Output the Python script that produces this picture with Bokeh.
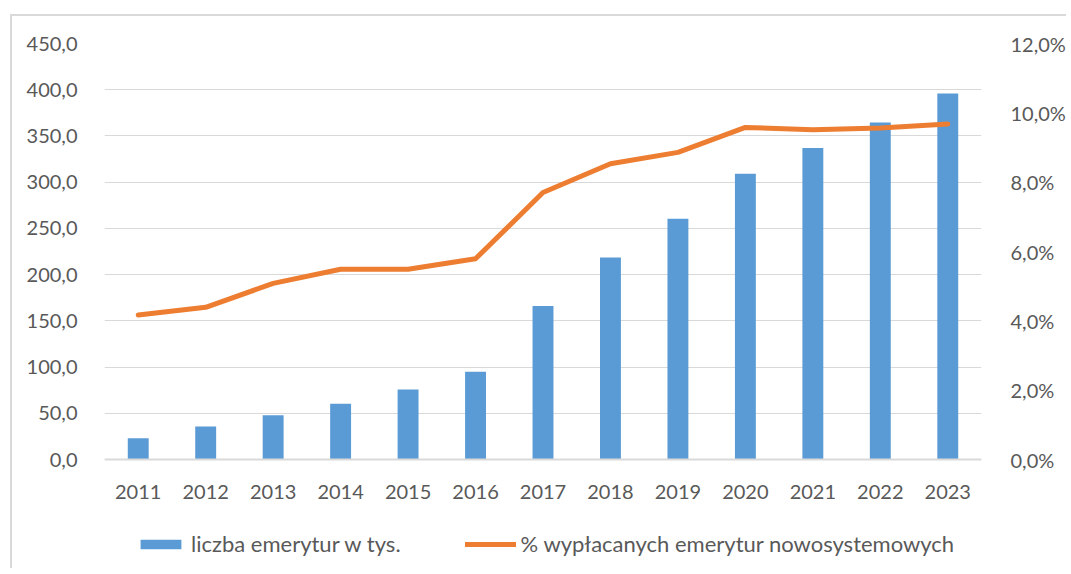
from bokeh.plotting import figure
from bokeh.models import (FactorRange, Range1d, LinearAxis, FixedTicker, CustomJSTickFormatter,
                          Legend, LegendItem)
from bokeh.embed import file_html
from bokeh.resources import INLINE

years = [str(y) for y in range(2011, 2024)]
liczba = [23.0, 35.7, 48.0, 60.3, 75.8, 95.0, 166.0, 218.5, 260.4, 309.0, 337.0, 364.6, 396.0]
procent = [4.17, 4.39, 5.08, 5.49, 5.49, 5.79, 7.70, 8.53, 8.86, 9.58, 9.51, 9.56, 9.68]
left_ticks = [0, 50, 100, 150, 200, 250, 300, 350, 400, 450]
right_ticks = [0, 2, 4, 6, 8, 10, 12]
bar_label = "liczba emerytur w tys."
line_label = "% wypłacanych emerytur nowosystemowych"

FONT = "Lato"
TXT = "#595959"
GRID = "#d9d9d9"

# layout (pixels, relative to the canvas)
W, H = 1056, 554
TOP, LEFT, RIGHT = 27, 92, 82
ZERO_Y = 443          # pixel row of value 0
BOTTOM = 4
frame_h = H - TOP - BOTTOM
data_h = ZERO_Y - TOP
below_px = frame_h - data_h
y_max, p_max = 450, 12
y_min = -y_max * below_px / data_h
p_min = -p_max * below_px / data_h

p = figure(width=W, height=H, x_range=FactorRange(*years, range_padding=0),
           y_range=Range1d(y_min, y_max), output_backend="svg", toolbar_location=None,
           min_border_left=LEFT, min_border_right=RIGHT, min_border_top=TOP, min_border_bottom=BOTTOM)
p.styles = {"margin-left": "10px", "margin-top": "14px",
            "border-left": "2px solid #d9d9d9", "border-top": "2px solid #d9d9d9"}
p.extra_y_ranges = {"pct": Range1d(p_min, p_max)}
p.outline_line_color = None
p.background_fill_color = "white"
p.border_fill_color = "white"

bars = p.vbar(x=years, top=liczba, width=0.31, fill_color="#5b9bd5", line_color=None)
line = p.line(x=years, y=procent, y_range_name="pct", line_color="#ed7d31", line_width=5,
              line_join="round", line_cap="round")

# left axis
ya = p.yaxis[0]
ya.ticker = FixedTicker(ticks=left_ticks)
ya.formatter = CustomJSTickFormatter(code="return tick.toFixed(1).replace('.', ',');")
ya.axis_line_color = None
ya.major_tick_line_color = None
ya.minor_tick_line_color = None
ya.major_label_standoff = 21
ya.major_label_text_font = FONT
ya.major_label_text_font_size = "20px"
ya.major_label_text_color = TXT

ra = LinearAxis(y_range_name="pct", ticker=FixedTicker(ticks=right_ticks),
                formatter=CustomJSTickFormatter(code="return tick.toFixed(1).replace('.', ',') + '%';"))
ra.axis_line_color = None
ra.major_tick_line_color = None
ra.minor_tick_line_color = None
ra.major_label_standoff = 23
ra.major_label_text_font = FONT
ra.major_label_text_font_size = "20px"
ra.major_label_text_color = TXT
p.add_layout(ra, "right")

xa = p.xaxis[0]
xa.fixed_location = 0
xa.axis_line_color = GRID
xa.axis_line_width = 2
xa.major_tick_line_color = None
xa.minor_tick_line_color = None
xa.major_label_standoff = 19
xa.major_label_text_font = FONT
xa.major_label_text_font_size = "20px"
xa.major_label_text_color = TXT

p.xgrid.grid_line_color = None
p.ygrid.grid_line_color = GRID
p.ygrid.grid_line_width = 1
p.ygrid.ticker = FixedTicker(ticks=left_ticks)

legend = Legend(items=[LegendItem(label=bar_label, renderers=[bars]),
                       LegendItem(label=line_label, renderers=[line])],
                orientation="horizontal", location=(31, 9))
legend.label_text_font = FONT
legend.label_text_font_size = "22px"
legend.label_text_color = TXT
legend.glyph_width = 51
legend.glyph_height = 12
legend.label_standoff = 5
legend.spacing = 64
legend.border_line_color = None
legend.background_fill_alpha = 0
legend.margin = 0
legend.padding = 0
p.add_layout(legend, "center")

open("out.html", "w").write(file_html(p, INLINE))
